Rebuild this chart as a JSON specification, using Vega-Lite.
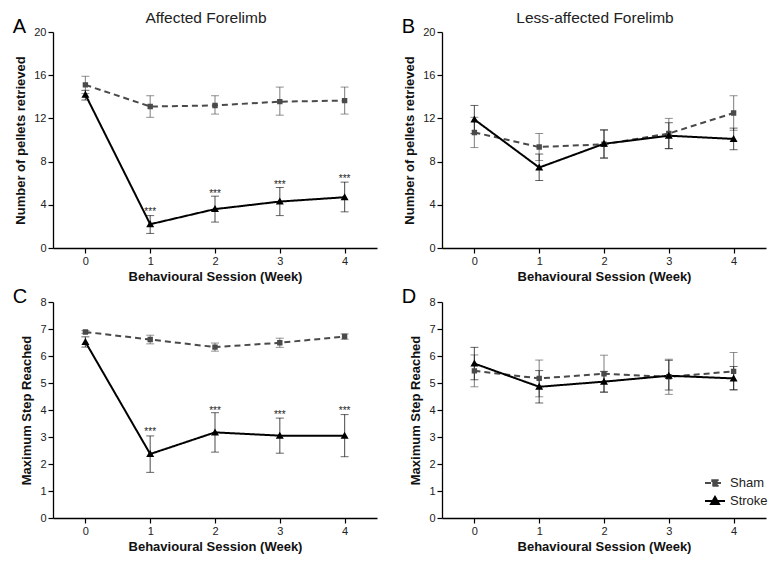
{
  "$schema": "https://vega.github.io/schema/vega-lite/v6.json",
  "padding": {"left": 12, "top": 10, "right": 2, "bottom": 4},
  "background": "white",
  "config": {
    "font": "Liberation Sans",
    "view": {"stroke": null},
    "axis": {"grid": false, "domainColor": "#000", "domainWidth": 1.3, "tickColor": "#000", "tickWidth": 1.2, "tickSize": 5, "labelFont": "Liberation Sans", "labelFontSize": 11, "labelColor": "#222", "labelPadding": 2, "titleFont": "Liberation Sans", "titleFontSize": 13, "titleFontWeight": "bold", "titleColor": "#111"},
    "axisX": {"titlePadding": 4},
    "axisY": {"titlePadding": 6},
    "legend": {"orient": "none", "legendX": 262, "legendY": 170, "labelFont": "Liberation Sans", "labelFontSize": 13, "labelColor": "#222", "symbolSize": 400, "symbolStrokeWidth": 2, "symbolOpacity": 1, "rowPadding": 0, "labelOffset": 4},
    "title": {"font": "Liberation Sans", "fontSize": 15.5, "fontWeight": "normal", "color": "#222", "offset": -9, "dx": -9}
  },
  "datasets": {
    "d": [
      {"panel": "A", "group": "Sham", "week": 0, "mean": 15.1, "lo": 14.3, "hi": 15.9},
      {"panel": "A", "group": "Sham", "week": 1, "mean": 13.1, "lo": 12.1, "hi": 14.1},
      {"panel": "A", "group": "Sham", "week": 2, "mean": 13.2, "lo": 12.4, "hi": 14.1},
      {"panel": "A", "group": "Sham", "week": 3, "mean": 13.55, "lo": 12.3, "hi": 14.9},
      {"panel": "A", "group": "Sham", "week": 4, "mean": 13.65, "lo": 12.4, "hi": 14.9},
      {"panel": "A", "group": "Stroke", "week": 0, "mean": 14.2, "lo": 13.7, "hi": 14.6},
      {"panel": "A", "group": "Stroke", "week": 1, "mean": 2.2, "lo": 1.35, "hi": 3.0},
      {"panel": "A", "group": "Stroke", "week": 2, "mean": 3.6, "lo": 2.4, "hi": 4.8},
      {"panel": "A", "group": "Stroke", "week": 3, "mean": 4.3, "lo": 3.0, "hi": 5.6},
      {"panel": "A", "group": "Stroke", "week": 4, "mean": 4.7, "lo": 3.35, "hi": 6.1},
      {"panel": "B", "group": "Sham", "week": 0, "mean": 10.7, "lo": 9.3, "hi": 12.1},
      {"panel": "B", "group": "Sham", "week": 1, "mean": 9.35, "lo": 8.1, "hi": 10.6},
      {"panel": "B", "group": "Sham", "week": 2, "mean": 9.6, "lo": 8.3, "hi": 10.9},
      {"panel": "B", "group": "Sham", "week": 3, "mean": 10.6, "lo": 9.2, "hi": 12.0},
      {"panel": "B", "group": "Sham", "week": 4, "mean": 12.5, "lo": 10.9, "hi": 14.1},
      {"panel": "B", "group": "Stroke", "week": 0, "mean": 11.9, "lo": 10.6, "hi": 13.2},
      {"panel": "B", "group": "Stroke", "week": 1, "mean": 7.45, "lo": 6.25, "hi": 8.7},
      {"panel": "B", "group": "Stroke", "week": 2, "mean": 9.65, "lo": 8.35, "hi": 10.95},
      {"panel": "B", "group": "Stroke", "week": 3, "mean": 10.4, "lo": 9.2, "hi": 11.6},
      {"panel": "B", "group": "Stroke", "week": 4, "mean": 10.1, "lo": 9.1, "hi": 11.1},
      {"panel": "C", "group": "Sham", "week": 0, "mean": 6.89, "lo": 6.84, "hi": 6.94},
      {"panel": "C", "group": "Sham", "week": 1, "mean": 6.61, "lo": 6.45, "hi": 6.77},
      {"panel": "C", "group": "Sham", "week": 2, "mean": 6.33, "lo": 6.18, "hi": 6.48},
      {"panel": "C", "group": "Sham", "week": 3, "mean": 6.49, "lo": 6.32, "hi": 6.66},
      {"panel": "C", "group": "Sham", "week": 4, "mean": 6.72, "lo": 6.62, "hi": 6.82},
      {"panel": "C", "group": "Stroke", "week": 0, "mean": 6.52, "lo": 6.33, "hi": 6.71},
      {"panel": "C", "group": "Stroke", "week": 1, "mean": 2.37, "lo": 1.69, "hi": 3.04},
      {"panel": "C", "group": "Stroke", "week": 2, "mean": 3.17, "lo": 2.44, "hi": 3.9},
      {"panel": "C", "group": "Stroke", "week": 3, "mean": 3.05, "lo": 2.4, "hi": 3.7},
      {"panel": "C", "group": "Stroke", "week": 4, "mean": 3.05, "lo": 2.27, "hi": 3.83},
      {"panel": "D", "group": "Sham", "week": 0, "mean": 5.45, "lo": 4.86, "hi": 6.04},
      {"panel": "D", "group": "Sham", "week": 1, "mean": 5.17, "lo": 4.49, "hi": 5.85},
      {"panel": "D", "group": "Sham", "week": 2, "mean": 5.34, "lo": 4.65, "hi": 6.03},
      {"panel": "D", "group": "Sham", "week": 3, "mean": 5.23, "lo": 4.58, "hi": 5.88},
      {"panel": "D", "group": "Sham", "week": 4, "mean": 5.43, "lo": 4.76, "hi": 6.13},
      {"panel": "D", "group": "Stroke", "week": 0, "mean": 5.72, "lo": 5.12, "hi": 6.32},
      {"panel": "D", "group": "Stroke", "week": 1, "mean": 4.86, "lo": 4.26, "hi": 5.46},
      {"panel": "D", "group": "Stroke", "week": 2, "mean": 5.05, "lo": 4.67, "hi": 5.43},
      {"panel": "D", "group": "Stroke", "week": 3, "mean": 5.27, "lo": 4.74, "hi": 5.84},
      {"panel": "D", "group": "Stroke", "week": 4, "mean": 5.17, "lo": 4.74, "hi": 5.61}
    ],
    "stars": [
      {"panel": "A", "week": 1, "y": 3.58, "t": "***"},
      {"panel": "A", "week": 2, "y": 5.31, "t": "***"},
      {"panel": "A", "week": 3, "y": 6.11, "t": "***"},
      {"panel": "A", "week": 4, "y": 6.7, "t": "***"},
      {"panel": "C", "week": 1, "y": 3.28, "t": "***"},
      {"panel": "C", "week": 2, "y": 4.08, "t": "***"},
      {"panel": "C", "week": 3, "y": 3.92, "t": "***"},
      {"panel": "C", "week": 4, "y": 4.07, "t": "***"}
    ],
    "letters": [
      {"panel": "A", "week": -1.12, "y": 19.9, "t": "A"},
      {"panel": "B", "week": -1.12, "y": 19.9, "t": "B"},
      {"panel": "C", "week": -1.12, "y": 7.97, "t": "C"},
      {"panel": "D", "week": -1.12, "y": 7.97, "t": "D"}
    ]
  },
  "resolve": {"scale": {"color": "independent", "shape": "independent", "strokeDash": "independent"}, "legend": {"color": "independent", "shape": "independent", "strokeDash": "independent"}},
  "spacing": 3,
  "vconcat": [
    {
      "spacing": 24,
      "resolve": {"scale": {"color": "independent", "shape": "independent", "strokeDash": "independent"}, "legend": {"color": "independent", "shape": "independent", "strokeDash": "independent"}},
      "hconcat": [
        {
          "width": 324, "height": 216,
          "title": "Affected Forelimb",
          "layer": [
            {
              "data": {"name": "d"},
              "transform": [{"filter": "datum.panel === 'A'"}],
              "mark": {"type": "errorbar", "ticks": {"size": 8, "opacity": 0.6}, "rule": {"opacity": 0.6, "strokeWidth": 1.2}},
              "encoding": {
                "x": {"field": "week", "type": "quantitative", "scale": {"domain": [-0.5, 4.5], "nice": false, "zero": false}, "axis": {"values": [0, 1, 2, 3, 4], "format": "d", "title": "Behavioural Session (Week)"}},
                "y": {"field": "lo", "type": "quantitative", "scale": {"domain": [0, 20], "nice": false}, "axis": {"values": [0, 4, 8, 12, 16, 20], "title": "Number of pellets retrieved"}},
                "y2": {"field": "hi"},
                "color": {"field": "group", "type": "nominal", "scale": {"domain": ["Sham", "Stroke"], "range": ["#4a4a4a", "#000000"]}, "legend": null}
              }
            },
            {
              "data": {"name": "d"},
              "transform": [{"filter": "datum.panel === 'A'"}],
              "mark": {"type": "line", "strokeWidth": 2},
              "encoding": {
                "x": {"field": "week", "type": "quantitative", "axis": {"values": [0, 1, 2, 3, 4], "format": "d", "title": "Behavioural Session (Week)"}},
                "y": {"field": "mean", "type": "quantitative", "axis": {"values": [0, 4, 8, 12, 16, 20], "title": "Number of pellets retrieved"}},
                "color": {"field": "group", "type": "nominal", "legend": null},
                "strokeDash": {"field": "group", "type": "nominal", "scale": {"domain": ["Sham", "Stroke"], "range": [[6, 4], [1, 0]]}, "legend": null}
              }
            },
            {
              "data": {"name": "d"},
              "transform": [{"filter": "datum.panel === 'A'"}],
              "mark": {"type": "point", "filled": true, "opacity": 1, "strokeWidth": 0, "size": 400},
              "encoding": {
                "x": {"field": "week", "type": "quantitative", "axis": {"values": [0, 1, 2, 3, 4], "format": "d", "title": "Behavioural Session (Week)"}},
                "y": {"field": "mean", "type": "quantitative", "axis": {"values": [0, 4, 8, 12, 16, 20], "title": "Number of pellets retrieved"}},
                "color": {"field": "group", "type": "nominal", "legend": null},
                "shape": {"field": "group", "type": "nominal", "scale": {"domain": ["Sham", "Stroke"], "range": ["M-1,0L1,0M-0.27,-0.27L0.27,-0.27L0.27,0.27L-0.27,0.27Z", "M-1,0L1,0M0,-0.4L0.4,0.3L-0.4,0.3Z"]}, "legend": null}
              }
            },
            {
              "data": {"name": "stars"},
              "transform": [{"filter": "datum.panel === 'A'"}],
              "mark": {"type": "text", "fontSize": 10, "baseline": "alphabetic", "dy": 6, "fill": "#222"},
              "encoding": {
                "x": {"field": "week", "type": "quantitative", "axis": {"values": [0, 1, 2, 3, 4], "format": "d", "title": "Behavioural Session (Week)"}},
                "y": {"field": "y", "type": "quantitative", "axis": {"values": [0, 4, 8, 12, 16, 20], "title": "Number of pellets retrieved"}},
                "text": {"field": "t"}
              }
            },
            {
              "data": {"name": "letters"},
              "transform": [{"filter": "datum.panel === 'A'"}],
              "mark": {"type": "text", "fontSize": 20, "align": "left", "baseline": "alphabetic", "fill": "#000"},
              "encoding": {
                "x": {"field": "week", "type": "quantitative", "axis": {"values": [0, 1, 2, 3, 4], "format": "d", "title": "Behavioural Session (Week)"}},
                "y": {"field": "y", "type": "quantitative", "axis": {"values": [0, 4, 8, 12, 16, 20], "title": "Number of pellets retrieved"}},
                "text": {"field": "t"}
              }
            }
          ]
        },
        {
          "width": 324, "height": 216,
          "title": "Less-affected Forelimb",
          "layer": [
            {
              "data": {"name": "d"},
              "transform": [{"filter": "datum.panel === 'B'"}],
              "mark": {"type": "errorbar", "ticks": {"size": 8, "opacity": 0.6}, "rule": {"opacity": 0.6, "strokeWidth": 1.2}},
              "encoding": {
                "x": {"field": "week", "type": "quantitative", "scale": {"domain": [-0.5, 4.5], "nice": false, "zero": false}, "axis": {"values": [0, 1, 2, 3, 4], "format": "d", "title": "Behavioural Session (Week)"}},
                "y": {"field": "lo", "type": "quantitative", "scale": {"domain": [0, 20], "nice": false}, "axis": {"values": [0, 4, 8, 12, 16, 20], "title": "Number of pellets retrieved"}},
                "y2": {"field": "hi"},
                "color": {"field": "group", "type": "nominal", "scale": {"domain": ["Sham", "Stroke"], "range": ["#4a4a4a", "#000000"]}, "legend": null}
              }
            },
            {
              "data": {"name": "d"},
              "transform": [{"filter": "datum.panel === 'B'"}],
              "mark": {"type": "line", "strokeWidth": 2},
              "encoding": {
                "x": {"field": "week", "type": "quantitative", "axis": {"values": [0, 1, 2, 3, 4], "format": "d", "title": "Behavioural Session (Week)"}},
                "y": {"field": "mean", "type": "quantitative", "axis": {"values": [0, 4, 8, 12, 16, 20], "title": "Number of pellets retrieved"}},
                "color": {"field": "group", "type": "nominal", "legend": null},
                "strokeDash": {"field": "group", "type": "nominal", "scale": {"domain": ["Sham", "Stroke"], "range": [[6, 4], [1, 0]]}, "legend": null}
              }
            },
            {
              "data": {"name": "d"},
              "transform": [{"filter": "datum.panel === 'B'"}],
              "mark": {"type": "point", "filled": true, "opacity": 1, "strokeWidth": 0, "size": 400},
              "encoding": {
                "x": {"field": "week", "type": "quantitative", "axis": {"values": [0, 1, 2, 3, 4], "format": "d", "title": "Behavioural Session (Week)"}},
                "y": {"field": "mean", "type": "quantitative", "axis": {"values": [0, 4, 8, 12, 16, 20], "title": "Number of pellets retrieved"}},
                "color": {"field": "group", "type": "nominal", "legend": null},
                "shape": {"field": "group", "type": "nominal", "scale": {"domain": ["Sham", "Stroke"], "range": ["M-1,0L1,0M-0.27,-0.27L0.27,-0.27L0.27,0.27L-0.27,0.27Z", "M-1,0L1,0M0,-0.4L0.4,0.3L-0.4,0.3Z"]}, "legend": null}
              }
            },
            {
              "data": {"name": "letters"},
              "transform": [{"filter": "datum.panel === 'B'"}],
              "mark": {"type": "text", "fontSize": 20, "align": "left", "baseline": "alphabetic", "fill": "#000"},
              "encoding": {
                "x": {"field": "week", "type": "quantitative", "axis": {"values": [0, 1, 2, 3, 4], "format": "d", "title": "Behavioural Session (Week)"}},
                "y": {"field": "y", "type": "quantitative", "axis": {"values": [0, 4, 8, 12, 16, 20], "title": "Number of pellets retrieved"}},
                "text": {"field": "t"}
              }
            }
          ]
        }
      ]
    },
    {
      "spacing": 24,
      "resolve": {"scale": {"color": "independent", "shape": "independent", "strokeDash": "independent"}, "legend": {"color": "independent", "shape": "independent", "strokeDash": "independent"}},
      "hconcat": [
        {
          "width": 324, "height": 216,
          "layer": [
            {
              "data": {"name": "d"},
              "transform": [{"filter": "datum.panel === 'C'"}],
              "mark": {"type": "errorbar", "ticks": {"size": 8, "opacity": 0.6}, "rule": {"opacity": 0.6, "strokeWidth": 1.2}},
              "encoding": {
                "x": {"field": "week", "type": "quantitative", "scale": {"domain": [-0.5, 4.5], "nice": false, "zero": false}, "axis": {"values": [0, 1, 2, 3, 4], "format": "d", "title": "Behavioural Session (Week)"}},
                "y": {"field": "lo", "type": "quantitative", "scale": {"domain": [0, 8], "nice": false}, "axis": {"values": [0, 1, 2, 3, 4, 5, 6, 7, 8], "title": "Maximum Step Reached"}},
                "y2": {"field": "hi"},
                "color": {"field": "group", "type": "nominal", "scale": {"domain": ["Sham", "Stroke"], "range": ["#4a4a4a", "#000000"]}, "legend": null}
              }
            },
            {
              "data": {"name": "d"},
              "transform": [{"filter": "datum.panel === 'C'"}],
              "mark": {"type": "line", "strokeWidth": 2},
              "encoding": {
                "x": {"field": "week", "type": "quantitative", "axis": {"values": [0, 1, 2, 3, 4], "format": "d", "title": "Behavioural Session (Week)"}},
                "y": {"field": "mean", "type": "quantitative", "axis": {"values": [0, 1, 2, 3, 4, 5, 6, 7, 8], "title": "Maximum Step Reached"}},
                "color": {"field": "group", "type": "nominal", "legend": null},
                "strokeDash": {"field": "group", "type": "nominal", "scale": {"domain": ["Sham", "Stroke"], "range": [[6, 4], [1, 0]]}, "legend": null}
              }
            },
            {
              "data": {"name": "d"},
              "transform": [{"filter": "datum.panel === 'C'"}],
              "mark": {"type": "point", "filled": true, "opacity": 1, "strokeWidth": 0, "size": 400},
              "encoding": {
                "x": {"field": "week", "type": "quantitative", "axis": {"values": [0, 1, 2, 3, 4], "format": "d", "title": "Behavioural Session (Week)"}},
                "y": {"field": "mean", "type": "quantitative", "axis": {"values": [0, 1, 2, 3, 4, 5, 6, 7, 8], "title": "Maximum Step Reached"}},
                "color": {"field": "group", "type": "nominal", "legend": null},
                "shape": {"field": "group", "type": "nominal", "scale": {"domain": ["Sham", "Stroke"], "range": ["M-1,0L1,0M-0.27,-0.27L0.27,-0.27L0.27,0.27L-0.27,0.27Z", "M-1,0L1,0M0,-0.4L0.4,0.3L-0.4,0.3Z"]}, "legend": null}
              }
            },
            {
              "data": {"name": "stars"},
              "transform": [{"filter": "datum.panel === 'C'"}],
              "mark": {"type": "text", "fontSize": 10, "baseline": "alphabetic", "dy": 6, "fill": "#222"},
              "encoding": {
                "x": {"field": "week", "type": "quantitative", "axis": {"values": [0, 1, 2, 3, 4], "format": "d", "title": "Behavioural Session (Week)"}},
                "y": {"field": "y", "type": "quantitative", "axis": {"values": [0, 1, 2, 3, 4, 5, 6, 7, 8], "title": "Maximum Step Reached"}},
                "text": {"field": "t"}
              }
            },
            {
              "data": {"name": "letters"},
              "transform": [{"filter": "datum.panel === 'C'"}],
              "mark": {"type": "text", "fontSize": 20, "align": "left", "baseline": "alphabetic", "fill": "#000"},
              "encoding": {
                "x": {"field": "week", "type": "quantitative", "axis": {"values": [0, 1, 2, 3, 4], "format": "d", "title": "Behavioural Session (Week)"}},
                "y": {"field": "y", "type": "quantitative", "axis": {"values": [0, 1, 2, 3, 4, 5, 6, 7, 8], "title": "Maximum Step Reached"}},
                "text": {"field": "t"}
              }
            }
          ]
        },
        {
          "width": 324, "height": 216,
          "layer": [
            {
              "data": {"name": "d"},
              "transform": [{"filter": "datum.panel === 'D'"}],
              "mark": {"type": "errorbar", "ticks": {"size": 8, "opacity": 0.6}, "rule": {"opacity": 0.6, "strokeWidth": 1.2}},
              "encoding": {
                "x": {"field": "week", "type": "quantitative", "scale": {"domain": [-0.5, 4.5], "nice": false, "zero": false}, "axis": {"values": [0, 1, 2, 3, 4], "format": "d", "title": "Behavioural Session (Week)"}},
                "y": {"field": "lo", "type": "quantitative", "scale": {"domain": [0, 8], "nice": false}, "axis": {"values": [0, 1, 2, 3, 4, 5, 6, 7, 8], "title": "Maximum Step Reached"}},
                "y2": {"field": "hi"},
                "color": {"field": "group", "type": "nominal", "scale": {"domain": ["Sham", "Stroke"], "range": ["#4a4a4a", "#000000"]}, "legend": {"title": null}}
              }
            },
            {
              "data": {"name": "d"},
              "transform": [{"filter": "datum.panel === 'D'"}],
              "mark": {"type": "line", "strokeWidth": 2},
              "encoding": {
                "x": {"field": "week", "type": "quantitative", "axis": {"values": [0, 1, 2, 3, 4], "format": "d", "title": "Behavioural Session (Week)"}},
                "y": {"field": "mean", "type": "quantitative", "axis": {"values": [0, 1, 2, 3, 4, 5, 6, 7, 8], "title": "Maximum Step Reached"}},
                "color": {"field": "group", "type": "nominal", "legend": {"title": null}},
                "strokeDash": {"field": "group", "type": "nominal", "scale": {"domain": ["Sham", "Stroke"], "range": [[6, 4], [1, 0]]}, "legend": null}
              }
            },
            {
              "data": {"name": "d"},
              "transform": [{"filter": "datum.panel === 'D'"}],
              "mark": {"type": "point", "filled": true, "opacity": 1, "strokeWidth": 0, "size": 400},
              "encoding": {
                "x": {"field": "week", "type": "quantitative", "axis": {"values": [0, 1, 2, 3, 4], "format": "d", "title": "Behavioural Session (Week)"}},
                "y": {"field": "mean", "type": "quantitative", "axis": {"values": [0, 1, 2, 3, 4, 5, 6, 7, 8], "title": "Maximum Step Reached"}},
                "color": {"field": "group", "type": "nominal", "legend": {"title": null}},
                "shape": {"field": "group", "type": "nominal", "scale": {"domain": ["Sham", "Stroke"], "range": ["M-1,0L1,0M-0.27,-0.27L0.27,-0.27L0.27,0.27L-0.27,0.27Z", "M-1,0L1,0M0,-0.4L0.4,0.3L-0.4,0.3Z"]},
                  "legend": {"title": null,
                    "encode": {"symbols": {"update": {
                      "fill": {"signal": "datum.value === 'Sham' ? '#4a4a4a' : '#000000'"},
                      "stroke": {"signal": "datum.value === 'Sham' ? '#4a4a4a' : '#000000'"},
                      "strokeDash": {"signal": "datum.value === 'Sham' ? [4, 3] : [1, 0]"},
                      "strokeWidth": {"value": 2},
                      "opacity": {"value": 1},
                      "fillOpacity": {"value": 1},
                      "strokeOpacity": {"value": 1}
                    }}}}}
              }
            },
            {
              "data": {"name": "letters"},
              "transform": [{"filter": "datum.panel === 'D'"}],
              "mark": {"type": "text", "fontSize": 20, "align": "left", "baseline": "alphabetic", "fill": "#000"},
              "encoding": {
                "x": {"field": "week", "type": "quantitative", "axis": {"values": [0, 1, 2, 3, 4], "format": "d", "title": "Behavioural Session (Week)"}},
                "y": {"field": "y", "type": "quantitative", "axis": {"values": [0, 1, 2, 3, 4, 5, 6, 7, 8], "title": "Maximum Step Reached"}},
                "text": {"field": "t"}
              }
            }
          ]
        }
      ]
    }
  ]
}
